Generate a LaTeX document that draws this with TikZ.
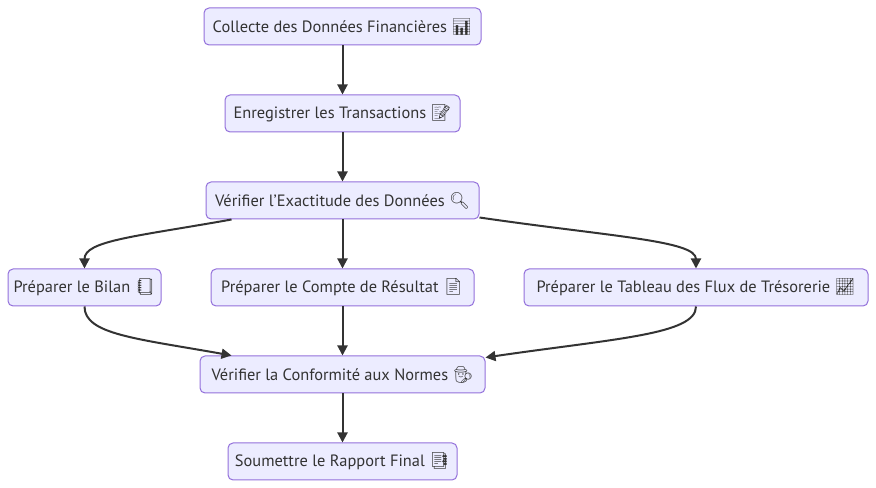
\documentclass[tikz,border=0pt]{standalone}
\usepackage{fontspec}
\setmainfont{PT Sans}
\newfontfamily\emoji{Noto Emoji}
\usetikzlibrary{arrows.meta}
\definecolor{boxfill}{HTML}{ECECFF}
\definecolor{boxline}{HTML}{9370DB}
\definecolor{ink}{HTML}{333333}
\tikzset{
  box/.style={draw=boxline, fill=boxfill, rounded corners=3.75pt, line width=0.75pt,
    minimum height=27.75pt, inner xsep=3pt, text=ink, font=\fontsize{12.3}{15}\selectfont},
  arr/.style={draw=ink, line width=1.5pt, -{Triangle[length=7.5pt,width=7.5pt]}}
}
\begin{document}
\begin{tikzpicture}[x=0.75pt,y=-0.75pt]
            \useasboundingbox (0,0) rectangle (876,488);
            \node (collect) at (342.5,26.5) [box,minimum width=207.75pt] {Collecte des Données Financières {\emoji 📊}};
            \node (record) at (342.5,113.5) [box,minimum width=176.25pt] {Enregistrer les Transactions {\emoji 📝}};
            \node (check) at (342.5,200.5) [box,minimum width=204.75pt] {Vérifier l'Exactitude des Données {\emoji 🔍}};
            \node (bilan) at (84.5,287.5) [box,minimum width=114.75pt] {Préparer le Bilan {\emoji 📒}};
            \node (result) at (342.5,287.5) [box,minimum width=197.25pt] {Préparer le Compte de Résultat {\emoji 📄}};
            \node (flux) at (696,287.5) [box,minimum width=258pt] {Préparer le Tableau des Flux de Trésorerie {\emoji 📈}};
            \node (norms) at (342.5,374.5) [box,minimum width=213.75pt] {Vérifier la Conformité aux Normes {\emoji 🕵}};
            \node (report) at (342.5,461.5) [box,minimum width=171.75pt] {Soumettre le Rapport Final {\emoji 📑}};

            \draw[arr] (collect) -- (record);
            \draw[arr] (record) -- (check);
            \draw[arr] (check) -- (result);
            \draw[arr] (result) -- (norms);
            \draw[arr] (norms) -- (report);
            \draw[arr] ([xshift=19.5pt]check.south west) .. controls +(-95,17) and +(0,-28) .. (bilan.north);
            \draw[arr] ([yshift=1.5pt]check.south east) .. controls +(130,19) and +(0,-28) .. (flux.north);
            \draw[arr] (bilan.south) .. controls +(0,28) and +(-95,-17) .. ([xshift=24pt]norms.north west);
            \draw[arr] (flux.south) .. controls +(0,28) and +(130,-19) .. ([yshift=-1.5pt]norms.north east);
        \end{tikzpicture}
\end{document}
